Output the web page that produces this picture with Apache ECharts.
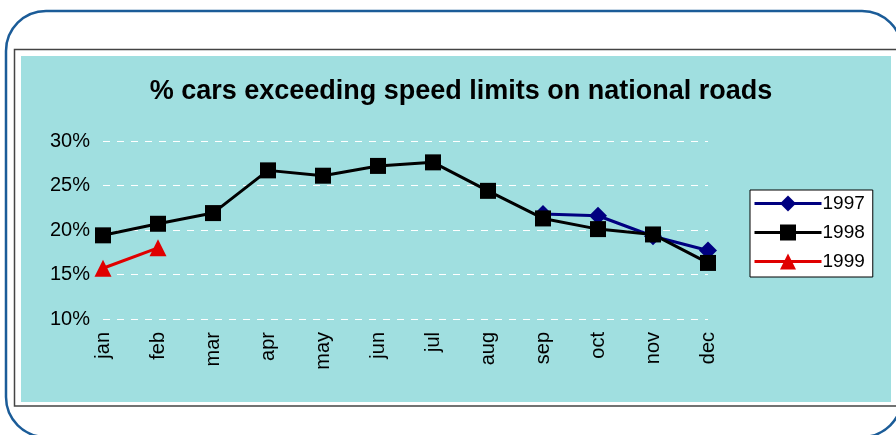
<!DOCTYPE html>
<html>
<head>
<meta charset="utf-8">
<script src="https://cdn.jsdelivr.net/npm/echarts@6/dist/echarts.min.js"></script>
<style>
  html, body { margin: 0; padding: 0; background: #fff; }
  #chart { width: 896px; height: 435px; }
</style>
</head>
<body>
<div id="chart"></div>
<script>
// month categories
const months = ['jan', 'feb', 'mar', 'apr', 'may', 'jun', 'jul', 'aug', 'sep', 'oct', 'nov', 'dec']
// % of cars over the limit, per year
const data1997 = [null, null, null, null, null, null, null, null, 21.8, 21.6, 19.3, 17.7]
const data1998 = [19.4, 20.7, 21.9, 26.7, 26.1, 27.2, 27.6, 24.4, 21.3, 20.1, 19.5, 16.3]
const data1999 = [15.7, 18.0, null, null, null, null, null, null, null, null, null, null]

const chart = echarts.init(document.getElementById('chart'))

const font = 'Liberation Sans, Arial, sans-serif'

const option = {
  animation: false,
  textStyle: { fontFamily: font },
  graphic: [
    // rounded blue outer border
    {
      type: 'rect', z: -10, silent: true,
      shape: { x: 6, y: 11, width: 896, height: 426, r: 40 },
      style: { fill: '#fff', stroke: '#1b5c98', lineWidth: 2.5 }
    },
    // chart area frame
    {
      type: 'rect', z: -9, silent: true,
      shape: { x: 14.5, y: 49.5, width: 900, height: 356.5 },
      style: { fill: '#fff', stroke: '#444', lineWidth: 1.5 }
    },
    // cyan plot background
    {
      type: 'rect', z: -8, silent: true,
      shape: { x: 21, y: 56, width: 870, height: 346 },
      style: { fill: '#a0dfe0' }
    }
  ],
  title: {
    text: '% cars exceeding speed limits on national roads',
    left: 456,
    textAlign: 'center',
    top: 73,
    textStyle: { fontFamily: font, fontSize: 27, fontWeight: 'bold', color: '#000' }
  },
  legend: {
    data: ['1997', '1998', '1999'],
    orient: 'vertical',
    left: 750,
    top: 190,
    itemWidth: 67,
    itemHeight: 20,
    itemGap: 10,
    padding: [4, 8, 6, 3],
    backgroundColor: '#fff',
    borderColor: '#000',
    borderWidth: 1,
    lineStyle: { width: 3 },
    textStyle: { fontFamily: font, fontSize: 19, color: '#000', padding: [0, 0, 0, -4] }
  },
  grid: { left: 103, right: 188, top: 141, bottom: 116 },
  xAxis: {
    type: 'category',
    data: months,
    boundaryGap: false,
    axisLine: { show: false },
    axisTick: { show: false },
    axisLabel: { rotate: 90, margin: 13, fontSize: 20, color: '#000', fontFamily: font }
  },
  yAxis: {
    type: 'value',
    min: 10,
    max: 30,
    interval: 5,
    axisLine: { show: false },
    axisTick: { show: false },
    axisLabel: { formatter: '{value}%', margin: 13, fontSize: 20, color: '#000', fontFamily: font },
    splitLine: { lineStyle: { color: '#fff', type: [7, 7], width: 1 } }
  },
  series: [
    {
      name: '1997', type: 'line', data: data1997, z: 2,
      symbol: 'diamond', symbolSize: 18,
      lineStyle: { color: '#000080', width: 3 },
      itemStyle: { color: '#000080' }
    },
    {
      name: '1999', type: 'line', data: data1999, z: 3,
      symbol: 'triangle', symbolSize: 17,
      lineStyle: { color: '#e00000', width: 3 },
      itemStyle: { color: '#e00000' }
    },
    {
      name: '1998', type: 'line', data: data1998, z: 4,
      symbol: 'rect', symbolSize: 16,
      lineStyle: { color: '#000', width: 3 },
      itemStyle: { color: '#000' }
    }
  ]
}

chart.setOption(option)
</script>
</body>
</html>
